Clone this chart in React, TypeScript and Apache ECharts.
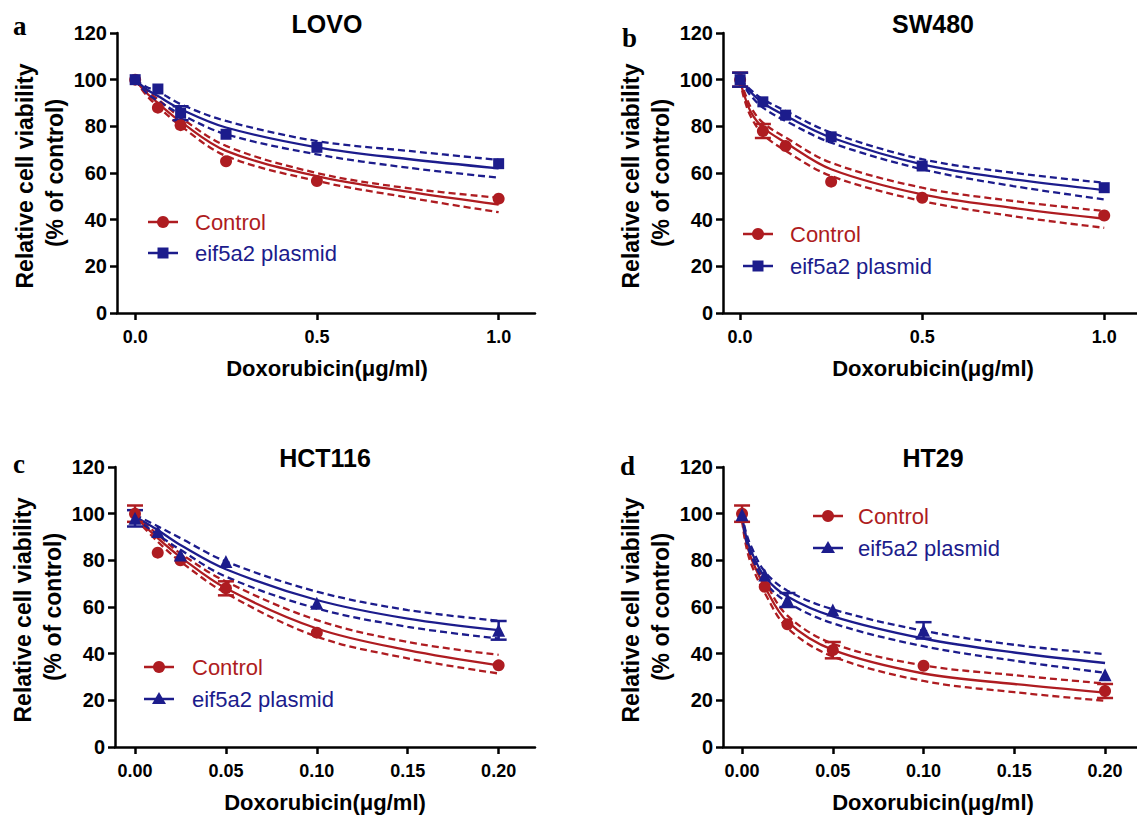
import React, { useEffect, useRef } from "react";
import * as echarts from "echarts";

const FONT = "'Liberation Sans', Arial, sans-serif";
const RED = "#AE1C21";
const BLUE = "#1C1C8C";

// ---------- LOVO ----------
const lovoX = [0, 0.0625, 0.125, 0.25, 0.5, 1.0];
const lovoCtrl = [100, 88, 80.5, 65, 56.6, 49];
const lovoCtrlErr = [1, 1, 1, 1, 1, 1];
const lovoEif = [100, 96, 85.6, 76.6, 71, 64];
const lovoEifErr = [1, 1, 3, 2.5, 1, 1];
const lovoFitX = [0, 0.03, 0.0625, 0.125, 0.25, 0.5, 0.75, 1.0];
const lovoCtrlFit = [100, 94.5, 90, 82, 69.5, 58.7, 52, 46.5];
const lovoCtrlUp = [100, 95.5, 91.6, 83.8, 71.6, 60, 53.5, 49.4];
const lovoCtrlLo = [100, 93.5, 88.5, 80.2, 67.3, 56.6, 49.5, 43.2];
const lovoEifFit = [100, 96, 93, 87.4, 79.5, 71, 66, 62];
const lovoEifUp = [100, 97, 95, 89.5, 82.3, 73.7, 69.5, 65.6];
const lovoEifLo = [100, 94.5, 91, 85.2, 76.6, 68, 62.3, 58];

// ---------- SW480 ----------
const swX = [0, 0.0625, 0.125, 0.25, 0.5, 1.0];
const swCtrl = [100, 78, 71.6, 56.3, 49.4, 41.8];
const swCtrlErr = [3, 3, 1, 1, 2, 1];
const swEif = [100, 90.5, 84.8, 75.5, 63, 53.7];
const swEifErr = [3, 1.5, 1.5, 1.5, 1.5, 1.5];
const swFitX = [0, 0.01, 0.03, 0.0625, 0.125, 0.25, 0.5, 0.75, 1.0];
const swCtrlFit = [100, 94, 86, 79.5, 73, 61.6, 50.8, 45, 40.4];
const swCtrlUp = [100, 95.5, 88, 81.6, 75.2, 64.4, 53.7, 48, 43.7];
const swCtrlLo = [100, 92.5, 84, 76.6, 69.5, 58.7, 48, 41.5, 36.5];
const swEifFit = [100, 98, 94.5, 90, 84.5, 75.2, 63.7, 57.3, 52.7];
const swEifUp = [100, 98.5, 95.5, 91.6, 86.6, 77.3, 65.9, 60.1, 55.8];
const swEifLo = [100, 97.5, 93, 88, 82.3, 73, 61.6, 54.4, 48.7];

// ---------- HCT116 ----------
const hcX = [0, 0.0125, 0.025, 0.05, 0.1, 0.2];
const hcCtrl = [100, 83.3, 80, 68, 49, 35];
const hcCtrlErr = [3.5, 1, 1, 3, 1, 1];
const hcEif = [98, 92.4, 82.3, 79.5, 61.6, 50];
const hcEifErr = [3.5, 1, 1, 1, 1, 4];
const hcFitX = [0, 0.0125, 0.025, 0.05, 0.1, 0.15, 0.2];
const hcCtrlFit = [98.8, 89.5, 81.4, 68, 50.8, 41.5, 35];
const hcCtrlUp = [99.5, 91, 83, 70.9, 54.4, 45, 39.5];
const hcCtrlLo = [98, 88, 79.5, 65.9, 47.3, 38, 31.5];
const hcEifFit = [98.8, 93, 86.6, 76.2, 63, 55, 50.1];
const hcEifUp = [99.5, 94.6, 89.5, 79.5, 66.6, 58.7, 54.1];
const hcEifLo = [98, 91, 84.5, 73, 59.4, 51.5, 46.5];

// ---------- HT29 ----------
const htX = [0, 0.0125, 0.025, 0.05, 0.1, 0.2];
const htCtrl = [100, 68.7, 52.6, 41.5, 34.8, 24];
const htCtrlErr = [3.5, 1, 1, 3.5, 1, 3];
const htEif = [99.5, 73.7, 63, 58.7, 50, 31];
const htEifErr = [1, 1, 3, 1, 3.5, 1];
const htFitX = [0, 0.002, 0.005, 0.0125, 0.025, 0.05, 0.1, 0.15, 0.2];
const htCtrlFit = [98, 89, 81, 68.7, 53.7, 41.6, 31.5, 27, 23.3];
const htCtrlUp = [99, 91, 83.5, 71.3, 56.3, 44.3, 35, 30.8, 27.2];
const htCtrlLo = [97, 87, 78.5, 66, 51, 38.8, 28.3, 23.5, 19.8];
const htEifFit = [99.5, 91, 84, 73, 64.5, 56, 46.5, 40.5, 36];
const htEifUp = [99.8, 92.5, 86, 75.2, 67, 59, 49.8, 43.8, 39.8];
const htEifLo = [99, 89.5, 82, 70.8, 62, 53, 43.2, 37, 31.8];

const yTicks = [0, 20, 40, 60, 80, 100, 120];
const xTicksTop = [0, 0.5, 1.0];
const xTicksBottom = [0, 0.05, 0.1, 0.15, 0.2];

const seriesNames = ["Control", "eif5a2 plasmid"];
const xTitle = "Doxorubicin(μg/ml)";
const yTitle1 = "Relative cell viability";
const yTitle2 = "(% of control)";

type Panel = {
  letter: string;
  title: string;
  grid: { left: number; top: number; width: number; height: number };
  xMin: number;
  xMax: number;
  xTicks: number[];
  digits: number;
  x: number[];
  ctrl: number[];
  ctrlErr: number[];
  eif: number[];
  eifErr: number[];
  fitX: number[];
  ctrlFit: number[];
  ctrlUp: number[];
  ctrlLo: number[];
  eifFit: number[];
  eifUp: number[];
  eifLo: number[];
  eifSymbol: string;
  letterPos: [number, number];
  legend: { lineX: number; textX: number; y1: number; y2: number };
};

const panels: Panel[] = [
  {
    letter: "a", title: "LOVO",
    grid: { left: 117, top: 33, width: 418, height: 280 },
    xMin: -0.05, xMax: 1.1, xTicks: xTicksTop, digits: 1,
    x: lovoX, ctrl: lovoCtrl, ctrlErr: lovoCtrlErr, eif: lovoEif, eifErr: lovoEifErr,
    fitX: lovoFitX, ctrlFit: lovoCtrlFit, ctrlUp: lovoCtrlUp, ctrlLo: lovoCtrlLo,
    eifFit: lovoEifFit, eifUp: lovoEifUp, eifLo: lovoEifLo,
    eifSymbol: "rect", letterPos: [13, 26],
    legend: { lineX: 148, textX: 195, y1: 222, y2: 253 },
  },
  {
    letter: "b", title: "SW480",
    grid: { left: 723, top: 33, width: 414, height: 280 },
    xMin: -0.047, xMax: 1.09, xTicks: xTicksTop, digits: 1,
    x: swX, ctrl: swCtrl, ctrlErr: swCtrlErr, eif: swEif, eifErr: swEifErr,
    fitX: swFitX, ctrlFit: swCtrlFit, ctrlUp: swCtrlUp, ctrlLo: swCtrlLo,
    eifFit: swEifFit, eifUp: swEifUp, eifLo: swEifLo,
    eifSymbol: "rect", letterPos: [622, 38],
    legend: { lineX: 743, textX: 790, y1: 234, y2: 266 },
  },
  {
    letter: "c", title: "HCT116",
    grid: { left: 115, top: 467, width: 420, height: 280 },
    xMin: -0.011, xMax: 0.22, xTicks: xTicksBottom, digits: 2,
    x: hcX, ctrl: hcCtrl, ctrlErr: hcCtrlErr, eif: hcEif, eifErr: hcEifErr,
    fitX: hcFitX, ctrlFit: hcCtrlFit, ctrlUp: hcCtrlUp, ctrlLo: hcCtrlLo,
    eifFit: hcEifFit, eifUp: hcEifUp, eifLo: hcEifLo,
    eifSymbol: "triangle", letterPos: [13, 464],
    legend: { lineX: 144, textX: 192, y1: 667, y2: 699 },
  },
  {
    letter: "d", title: "HT29",
    grid: { left: 723, top: 467, width: 414, height: 280 },
    xMin: -0.0105, xMax: 0.2176, xTicks: xTicksBottom, digits: 2,
    x: htX, ctrl: htCtrl, ctrlErr: htCtrlErr, eif: htEif, eifErr: htEifErr,
    fitX: htFitX, ctrlFit: htCtrlFit, ctrlUp: htCtrlUp, ctrlLo: htCtrlLo,
    eifFit: htEifFit, eifUp: htEifUp, eifLo: htEifLo,
    eifSymbol: "triangle", letterPos: [620, 466],
    legend: { lineX: 813, textX: 858, y1: 516, y2: 548 },
  },
];

function pairs(xs: number[], ys: number[]) {
  return xs.map((x, k) => [x, ys[k]]);
}

function fitLine(idx: number, xs: number[], ys: number[], color: string, dashed: boolean) {
  return {
    type: "line",
    xAxisIndex: idx,
    yAxisIndex: idx,
    data: pairs(xs, ys),
    smooth: 0.35,
    symbol: "none",
    silent: true,
    z: 2,
    lineStyle: { color, width: 2.3, type: dashed ? [7, 4] : "solid" },
  };
}

function errorBars(idx: number, xs: number[], ys: number[], es: number[], color: string) {
  return {
    type: "custom",
    xAxisIndex: idx,
    yAxisIndex: idx,
    z: 3,
    silent: true,
    data: xs.map((x, k) => [x, ys[k], es[k]]),
    encode: { x: 0, y: 1 },
    renderItem: (params: any, api: any) => {
      const x = api.value(0);
      const y = api.value(1);
      const e = api.value(2);
      const p1 = api.coord([x, y + e]);
      const p2 = api.coord([x, y - e]);
      if (Math.abs(p2[1] - p1[1]) / 2 < 6.5) return null;
      const w = 8;
      const st = { stroke: color, lineWidth: 2.5 };
      return {
        type: "group",
        children: [
          { type: "line", shape: { x1: p1[0], y1: p1[1], x2: p2[0], y2: p2[1] }, style: st },
          { type: "line", shape: { x1: p1[0] - w, y1: p1[1], x2: p1[0] + w, y2: p1[1] }, style: st },
          { type: "line", shape: { x1: p2[0] - w, y1: p2[1], x2: p2[0] + w, y2: p2[1] }, style: st },
        ],
      };
    },
  };
}

function legendMarker(shape: string, cx: number, cy: number, color: string) {
  if (shape === "circle") return { type: "circle", shape: { cx, cy, r: 6 }, style: { fill: color } };
  if (shape === "rect") return { type: "rect", shape: { x: cx - 5.5, y: cy - 5.5, width: 11, height: 11 }, style: { fill: color } };
  return {
    type: "polygon",
    shape: { points: [[cx, cy - 7], [cx - 7, cy + 5], [cx + 7, cy + 5]] },
    style: { fill: color },
  };
}

function buildOption() {
  const grid: any[] = [];
  const xAxis: any[] = [];
  const yAxis: any[] = [];
  const series: any[] = [];
  const graphic: any[] = [];
  const axisLine = { show: true, onZero: false, lineStyle: { color: "#000", width: 2.5 } };

  panels.forEach((p, i) => {
    grid.push({ ...p.grid, containLabel: false });
    xAxis.push({
      type: "value",
      gridIndex: i,
      min: p.xMin,
      max: p.xMax,
      axisLine,
      axisTick: { show: true, length: 7, customValues: p.xTicks, lineStyle: { color: "#000", width: 2.5 } },
      axisLabel: {
        customValues: p.xTicks,
        formatter: (v: number) => v.toFixed(p.digits),
        color: "#000",
        fontSize: 18,
        fontWeight: "bold",
        fontFamily: FONT,
        margin: 15,
      },
      splitLine: { show: false },
    });
    yAxis.push({
      type: "value",
      gridIndex: i,
      min: 0,
      max: 120,
      interval: 20,
      axisLine,
      axisTick: { show: true, length: 7, customValues: yTicks, lineStyle: { color: "#000", width: 2.5 } },
      axisLabel: {
        customValues: yTicks,
        color: "#000",
        fontSize: 20,
        fontWeight: "bold",
        fontFamily: FONT,
        margin: 10,
      },
      splitLine: { show: false },
    });

    series.push(fitLine(i, p.fitX, p.ctrlFit, RED, false));
    series.push(fitLine(i, p.fitX, p.ctrlUp, RED, true));
    series.push(fitLine(i, p.fitX, p.ctrlLo, RED, true));
    series.push(fitLine(i, p.fitX, p.eifFit, BLUE, false));
    series.push(fitLine(i, p.fitX, p.eifUp, BLUE, true));
    series.push(fitLine(i, p.fitX, p.eifLo, BLUE, true));
    series.push(errorBars(i, p.x, p.ctrl, p.ctrlErr, RED));
    series.push(errorBars(i, p.x, p.eif, p.eifErr, BLUE));
    series.push({
      type: "scatter",
      name: seriesNames[0],
      xAxisIndex: i,
      yAxisIndex: i,
      symbol: "circle",
      symbolSize: 12,
      itemStyle: { color: RED, opacity: 1 },
      z: 4,
      data: pairs(p.x, p.ctrl),
    });
    series.push({
      type: "scatter",
      name: seriesNames[1],
      xAxisIndex: i,
      yAxisIndex: i,
      symbol: p.eifSymbol,
      symbolSize: p.eifSymbol === "triangle" ? 13 : 11,
      itemStyle: { color: BLUE, opacity: 1 },
      z: 5,
      data: pairs(p.x, p.eif),
    });

    const g = p.grid;
    const cx = g.left + 210;
    const cy = g.top + g.height / 2;
    graphic.push({
      type: "text",
      x: cx,
      y: g.top - 9,
      style: { text: p.title, font: `bold 25px ${FONT}`, fill: "#000", align: "center", verticalAlign: "middle" },
    });
    graphic.push({
      type: "text",
      x: p.letterPos[0],
      y: p.letterPos[1],
      style: { text: p.letter, font: `bold 27px 'Liberation Serif', 'Times New Roman', serif`, fill: "#000", align: "left", verticalAlign: "middle" },
    });
    graphic.push({
      type: "text",
      x: cx,
      y: g.top + g.height + 55,
      style: { text: xTitle, font: `bold 22px ${FONT}`, fill: "#000", align: "center", verticalAlign: "middle" },
    });
    const yx = g.left - 117;
    graphic.push({
      type: "text",
      x: yx + 25,
      y: cy + 3,
      rotation: Math.PI / 2,
      style: { text: yTitle1, font: `bold 23px ${FONT}`, fill: "#000", align: "center", verticalAlign: "middle" },
    });
    graphic.push({
      type: "text",
      x: yx + 55,
      y: cy,
      rotation: Math.PI / 2,
      style: { text: yTitle2, font: `bold 23px ${FONT}`, fill: "#000", align: "center", verticalAlign: "middle" },
    });
    const L = p.legend;
    const rows: [number, string, string, string][] = [
      [L.y1, seriesNames[0], RED, "circle"],
      [L.y2, seriesNames[1], BLUE, p.eifSymbol],
    ];
    rows.forEach(([y, name, color, shape]) => {
      graphic.push({
        type: "line",
        shape: { x1: L.lineX, y1: y, x2: L.lineX + 30, y2: y },
        style: { stroke: color, lineWidth: 2.5 },
      });
      graphic.push(legendMarker(shape, L.lineX + 15, y, color));
      graphic.push({
        type: "text",
        x: L.textX,
        y,
        style: { text: name, font: `22px ${FONT}`, fill: color, align: "left", verticalAlign: "middle" },
      });
    });
  });

  return {
    animation: false,
    backgroundColor: "#fff",
    grid,
    xAxis,
    yAxis,
    series,
    graphic,
  };
}

export default function App() {
  const ref = useRef<HTMLDivElement>(null);
  useEffect(() => {
    document.body.style.margin = "0";
    if (!ref.current) return;
    const chart = echarts.init(ref.current, undefined, { renderer: "svg" });
    chart.setOption(buildOption() as any);
    return () => chart.dispose();
  }, []);
  return (
    <div
      ref={ref}
      style={{ position: "absolute", left: 0, top: 0, width: 1137, height: 815, background: "#fff" }}
    />
  );
}
